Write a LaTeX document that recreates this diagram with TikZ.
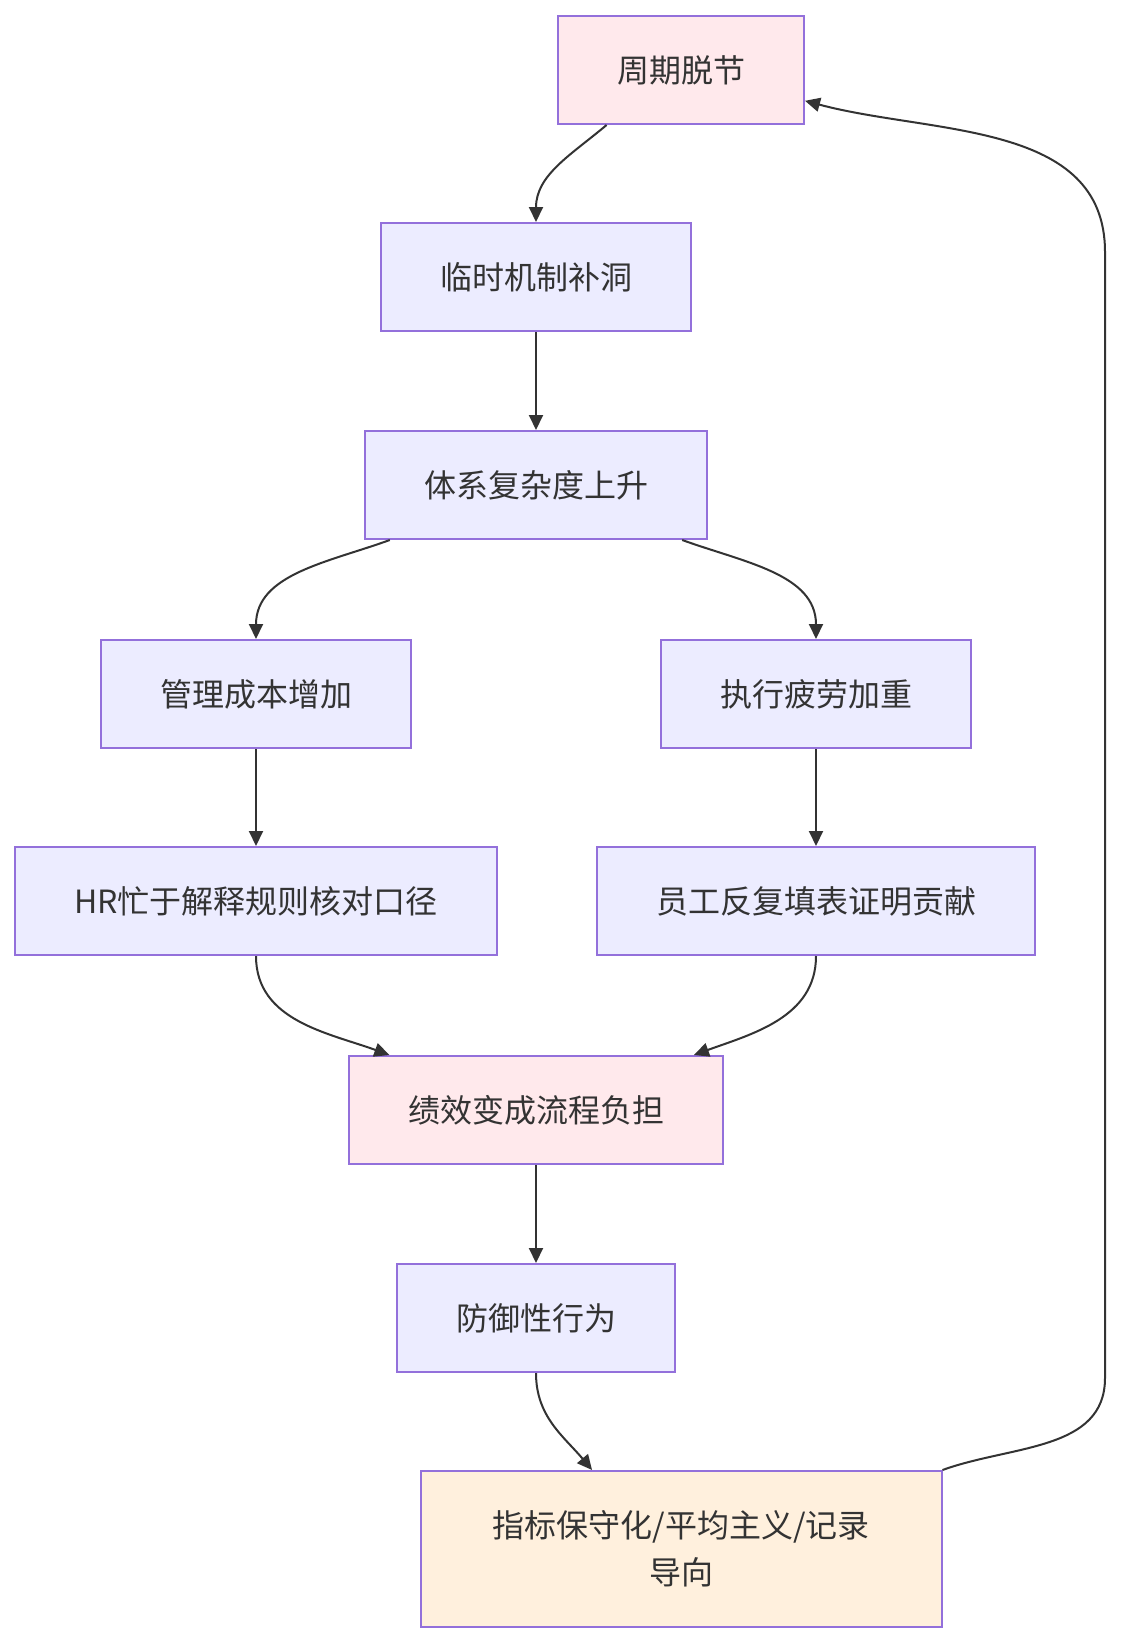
\documentclass[tikz,border=0pt]{standalone}
\usepackage{fontspec}
\newfontfamily\cjkfont{Noto Sans CJK SC}
\usetikzlibrary{arrows.meta,positioning,calc}
\definecolor{flowstroke}{HTML}{9370DB}
\definecolor{flowblue}{HTML}{ECECFF}
\definecolor{flowpink}{HTML}{FFE9EC}
\definecolor{floworange}{HTML}{FFF0DD}
\definecolor{flowtext}{HTML}{333333}
\definecolor{flowline}{HTML}{333333}
\tikzset{
  box/.style={draw=flowstroke, line width=2pt, fill=flowblue, minimum height=108pt, inner xsep=59pt, align=center, text=flowtext, font=\cjkfont\fontsize{32}{47}\selectfont},
  link/.style={-{Triangle[length=15pt,width=14pt]}, line width=2pt, flowline},
}

\begin{document}
\begin{tikzpicture}[x=1pt,y=1pt]
  \useasboundingbox (0,0) rectangle (1121,-1644);
  % boxes of the loop
  \node[box, fill=flowpink] (cycle) at (681,-70) {周期脱节};
  \node[box] (patch) at (536,-277) {临时机制补洞};
  \node[box] (complex) at (536,-485) {体系复杂度上升};
  \node[box] (cost) at (256,-694) {管理成本增加};
  \node[box] (fatigue) at (816,-694) {执行疲劳加重};
  \node[box] (hrbusy) at (256,-901) {HR忙于解释规则核对口径};
  \node[box] (forms) at (816,-901) {员工反复填表证明贡献};
  \node[box, fill=flowpink] (burden) at (536,-1110) {绩效变成流程负担};
  \node[box] (defend) at (536,-1318) {防御性行为};
  \node[box, fill=floworange, inner xsep=0pt, minimum width=521pt, minimum height=156pt] (outcome) at (681,-1549) {指标保守化/平均主义/记录\\导向};
  % return path on the right
  \coordinate (backlow) at (1105,-1378);
  \coordinate (backhigh) at (1105,-252);
  % links
  \draw[link] ($(cycle.south west)!0.2!(cycle.south east)$) to[out=-140,in=90] (patch.north);
  \draw[link] (patch) -- (complex);
  \draw[link] ($(complex.south west)!0.075!(complex.south east)$) to[out=-160,in=90] (cost.north);
  \draw[link] ($(complex.south west)!0.925!(complex.south east)$) to[out=-20,in=90] (fatigue.north);
  \draw[link] (cost) -- (hrbusy);
  \draw[link] (fatigue) -- (forms);
  \draw[link] (hrbusy.south) to[out=-90,in=160] ($(burden.north west)!0.11!(burden.north east)$);
  \draw[link] (forms.south) to[out=-90,in=20] ($(burden.north west)!0.92!(burden.north east)$);
  \draw[link] (burden) -- (defend);
  \draw[link] (defend.south) to[out=-90,in=130] ($(outcome.north west)!0.33!(outcome.north east)$);
  \draw[link] (outcome.north east) to[out=20,in=-90] (backlow) -- (backhigh)
    to[out=90,in=-15] ($(cycle.north east)!0.78!(cycle.south east)$);
\end{tikzpicture}
\end{document}
